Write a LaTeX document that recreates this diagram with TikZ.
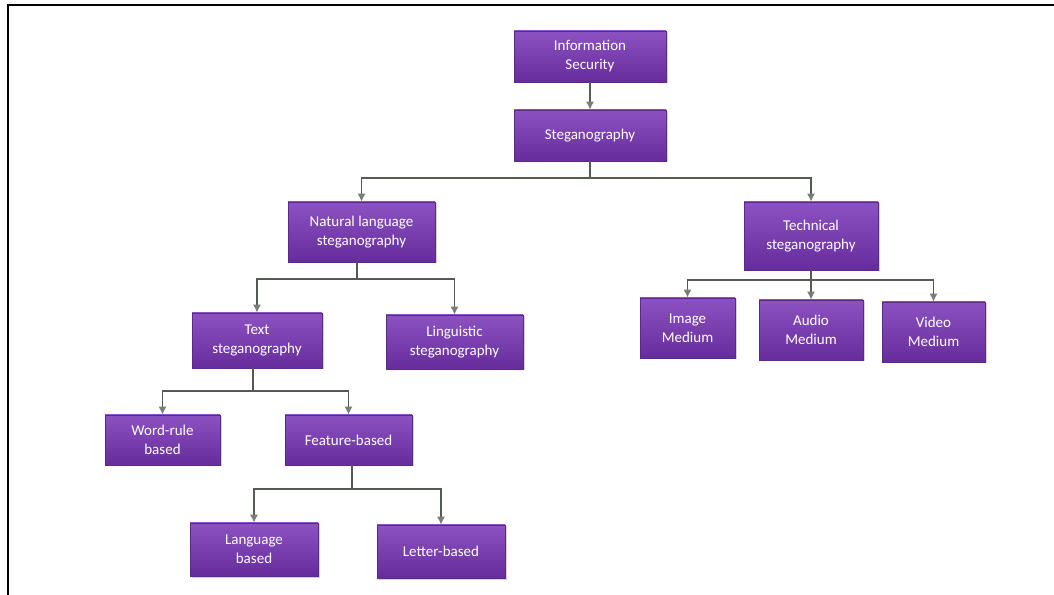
\documentclass[tikz,border=0pt]{standalone}
\usepackage{fontspec}
\setmainfont{Carlito}
\usetikzlibrary{arrows.meta,shadows}

\definecolor{boxtop}{RGB}{140,82,194}
\definecolor{boxbot}{RGB}{102,44,156}
\definecolor{boxedge}{RGB}{94,40,138}
\definecolor{wire}{RGB}{85,90,85}
\definecolor{tipcol}{RGB}{120,128,118}

\tikzset{
  catbox/.style={rectangle, top color=boxtop, bottom color=boxbot,
    draw=boxedge, line width=0.6pt, text=white, align=center,
    inner sep=2pt, font=\fontsize{15}{19}\selectfont,
    drop shadow={shadow xshift=1.5pt, shadow yshift=-1.5pt, opacity=0.35}},
  link/.style={draw=wire, line width=1.3pt,
    -{Latex[length=8pt,width=8pt,fill=tipcol,color=tipcol]}},
}

\begin{document}
\begin{tikzpicture}[x=1pt,y=1pt]
\useasboundingbox (0,0) rectangle (1054,594);

% frame along the top and the left side
\draw[line width=2pt, line cap=rect] (1054,589) -- (8,589) -- (8,0);

% boxes
\node[catbox, minimum width=152pt, minimum height=51pt] (info) at (590,537.5) {Information\\Security};
\node[catbox, minimum width=152pt, minimum height=51pt] (steg) at (590,458.5) {Steganography};
\node[catbox, minimum width=147pt, minimum height=60pt] (natl) at (361.5,362) {Natural language\\steganography};
\node[catbox, minimum width=134pt, minimum height=68pt] (tech) at (811,358) {Technical\\steganography};
\node[catbox, minimum width=130pt, minimum height=55pt] (text) at (257,253.5) {Text\\steganography};
\node[catbox, minimum width=137pt, minimum height=54pt] (ling) at (454.5,252) {Linguistic\\steganography};
\node[catbox, minimum width=95pt, minimum height=60pt] (image) at (687.5,266) {Image\\Medium};
\node[catbox, minimum width=104pt, minimum height=60pt] (audio) at (811,264) {Audio\\Medium};
\node[catbox, minimum width=103pt, minimum height=60pt] (video) at (933.5,262) {Video\\Medium};
\node[catbox, minimum width=115pt, minimum height=50pt] (word) at (162.5,154) {Word-rule\\based};
\node[catbox, minimum width=127pt, minimum height=50pt] (feat) at (348.5,154) {Feature-based};
\node[catbox, minimum width=128pt, minimum height=53pt] (lang) at (254,44.5) {Language\\based};
\node[catbox, minimum width=128pt, minimum height=53pt] (lett) at (441,42.5) {Letter-based};

% branching points of the connectors
\coordinate (bsteg) at (590,416);
\coordinate (bnatl) at (357,315);
\coordinate (btech) at (811,314);
\coordinate (btext) at (253,203);
\coordinate (bfeat) at (352,105);

% connectors
\draw[link] (info.south) -- (steg.north);
\draw[link] (steg.south) -- (bsteg) -| (natl.north);
\draw[link] (steg.south) -- (bsteg) -| (tech.north);
\draw[link] (natl.south -| bnatl) -- (bnatl) -| (text.north);
\draw[link] (natl.south -| bnatl) -- (bnatl) -| (ling.north);
\draw[link] (tech.south) -- (btech) -| (image.north);
\draw[link] (tech.south) -- (audio.north);
\draw[link] (tech.south) -- (btech) -| (video.north);
\draw[link] (text.south -| btext) -- (btext) -| (word.north);
\draw[link] (text.south -| btext) -- (btext) -| (feat.north);
\draw[link] (feat.south -| bfeat) -- (bfeat) -| (lang.north);
\draw[link] (feat.south -| bfeat) -- (bfeat) -| (lett.north);
\end{tikzpicture}
\end{document}
